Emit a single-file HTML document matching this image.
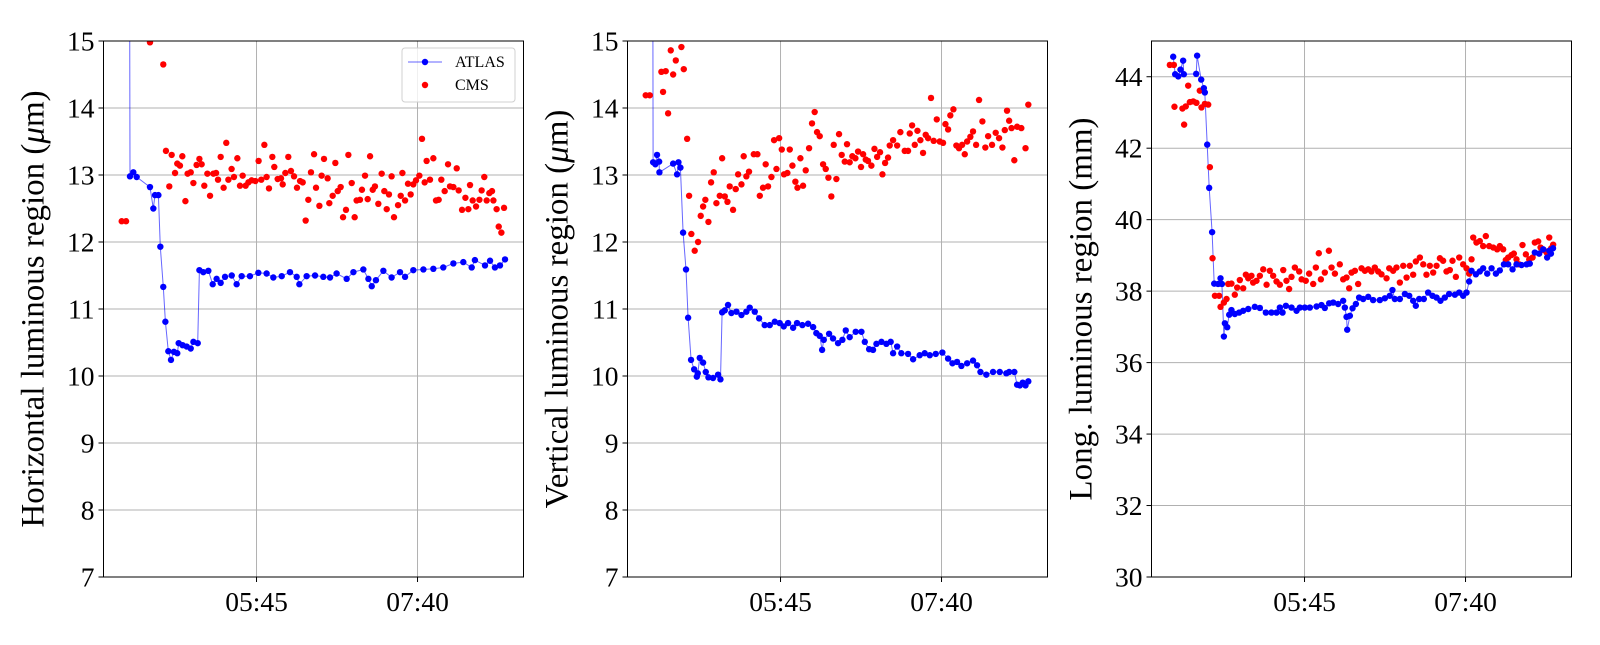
<!DOCTYPE html>
<html><head><meta charset="utf-8"><style>
body{margin:0;background:#fff;}
svg text{font-family:"Liberation Serif",serif;fill:#000;}
</style></head><body>
<svg id="fig" width="1600" height="640" xmlns="http://www.w3.org/2000/svg"></svg>
<script>
// ---- data (time in minutes since midnight) ----
const atlasH_t=[254,254.6,257,259.4,268.9,271.3,272.5,274.9,276.3,278.4,279.9,282,283.9,286,288.4,289.4,292.2,295.1,298,299.9,303,304.2,307,310.6,313.7,316.5,319.4,322.5,327.3,330.8,334.4,340.3,346.3,352.2,357,363,368.9,373.7,375.6,380.8,386.8,392.7,397.5,402.2,409.4,414.2,421.3,424.9,427.3,430.3,435.6,441.5,447.5,451.1,457,464.2,471.3,478.4,485.6,492.7,498.7,501,508.2,511.8,515.3,518.9,522.5];
const atlasH_v=[20,12.98,13.04,12.97,12.82,12.5,12.7,12.7,11.93,11.33,10.81,10.37,10.24,10.36,10.34,10.49,10.46,10.44,10.41,10.51,10.49,11.58,11.55,11.57,11.37,11.45,11.39,11.48,11.5,11.37,11.49,11.49,11.54,11.53,11.47,11.49,11.55,11.48,11.37,11.49,11.5,11.48,11.47,11.53,11.45,11.55,11.59,11.45,11.34,11.43,11.57,11.47,11.55,11.48,11.58,11.59,11.6,11.62,11.68,11.7,11.62,11.73,11.65,11.72,11.62,11.65,11.74];
const cmsH_t=[248.7,251.8,268.9,278.4,280.3,282.7,284.4,286.8,288.4,290.3,292,294.2,295.8,298,299.9,302.2,304.2,305.8,307.7,309.9,311.8,314.2,316.1,317.5,319.4,321.5,323.4,324.9,327.2,328.9,331.3,333.2,335.1,337.2,339.2,341.5,344.2,346.5,348.4,350.6,352.2,353.9,356.3,357.7,360.1,362.5,363.7,365.6,367.7,369.6,371.8,373.9,376.1,378,380.1,382,383.9,386.1,387.5,389.9,391.5,393.2,395.8,397,399.4,401.3,403,405.1,406.8,408.9,410.6,413,415.1,416.5,418.9,420.3,422.5,424.4,426.1,428,429.6,432,434.4,436.3,438,439.6,441.5,443.2,446.1,448,449.2,451.1,453.2,455.1,457,458.9,461.3,463.2,465.1,466.5,468.9,471.3,473.2,475.1,477,479.4,481.8,483.2,485.6,488,489.4,491.8,494.2,496.3,497.5,499.4,501.8,504.2,505.8,507.7,509.4,511.3,513.2,514.2,516.5,518,519.9,521.8];
const cmsH_v=[12.31,12.31,14.98,14.65,13.36,12.83,13.3,13.03,13.17,13.14,13.28,12.61,13.02,13.04,12.88,13.15,13.24,13.16,12.84,13.02,12.69,13.02,13.03,12.93,13.27,12.81,13.48,12.93,13.09,12.97,13.25,12.84,12.99,12.84,12.89,12.92,12.91,13.21,12.93,13.45,12.97,12.8,13.27,13.12,12.94,12.95,12.86,13.03,13.27,13.06,12.98,12.81,12.91,12.89,12.32,12.63,13.04,13.31,12.81,12.54,12.99,13.24,12.95,12.58,12.69,13.18,12.76,12.82,12.37,12.48,13.3,12.88,12.37,12.62,12.63,12.78,12.99,12.64,13.28,12.78,12.83,12.57,13.02,12.76,12.49,12.71,12.98,12.37,12.55,12.69,13.03,12.62,12.87,12.71,12.86,12.92,12.99,13.54,12.89,13.21,12.93,13.25,12.62,12.63,12.93,12.76,13.16,12.83,12.82,13.1,12.77,12.48,12.66,12.49,12.85,12.62,12.53,12.63,12.77,12.97,12.62,12.73,12.76,12.62,12.49,12.23,12.14,12.51];
const atlasV_t=[253.5,254,255.6,256.8,258.3,258.5,268.3,271.1,272.1,273.5,275.4,277.5,279,281.1,283.3,285.2,285.9,287.3,289.7,291.6,293.5,296.8,300.4,302.1,303.3,305.2,307.5,309.9,313.5,317.1,320.6,323,326.6,329.7,333.7,337.3,340.9,344.4,347.3,350.4,354,356.8,360.6,364.7,368.3,370.6,373,374.7,375.9,379.7,382.5,386.1,389.2,391.6,394.4,398.7,402.8,405.2,408.3,411.1,413.5,417.1,420.6,423.7,425.4,428.3,431.3,436.1,439.7,444.4,448,451.6,455.9,460.6,464.7,467.8,471.1,474.2,478.3,482.5,485.4,487.8,492,496.8,501.6,506.3,508.3,512,514,516,518,520,522];
const atlasV_v=[20,13.19,13.16,13.3,13.2,13.04,13.17,13.01,13.19,13.11,12.14,11.59,10.87,10.24,10.1,9.99,10.04,10.27,10.2,10.06,9.98,9.97,10.02,9.95,10.95,10.98,11.06,10.94,10.96,10.91,10.96,11.02,10.96,10.86,10.76,10.76,10.81,10.79,10.74,10.79,10.72,10.79,10.76,10.78,10.73,10.64,10.6,10.39,10.54,10.63,10.56,10.49,10.54,10.68,10.58,10.66,10.66,10.51,10.4,10.39,10.48,10.51,10.48,10.51,10.34,10.44,10.34,10.33,10.25,10.31,10.34,10.31,10.33,10.35,10.26,10.19,10.21,10.15,10.19,10.23,10.16,10.06,10.02,10.06,10.06,10.04,10.06,10.06,9.87,9.86,9.9,9.86,9.92];
const cmsV_t=[248.7,251.6,259.9,261.1,263,264.7,266.6,268.3,270.2,274.2,275.9,278.3,279.7,281.3,283.7,286.1,288,289.7,291.3,293.5,295.4,297.3,299.2,301.6,303.3,305.2,307.1,308.7,311.1,313,314.7,317.1,318.7,320.6,322.5,325.9,328.5,330.2,332.5,334.4,336.1,338.5,340.4,342.1,344,345.9,347.5,349.9,351.6,353.5,355.6,357.1,359.2,361.1,363,365.4,367.5,369.4,371.1,373,375.4,377.3,379.2,381.3,383,384.9,386.8,388.7,390.9,392.5,394.4,396.3,398.5,400.4,402.5,404,405.9,407.5,409.9,412.1,414,416.1,417.8,419.7,421.8,423,425.4,428.3,430.6,433.7,436.1,437.3,439,440.9,442.8,444.9,446.8,448.7,450.4,452.5,454.4,456.6,458.7,461.1,462.8,464.7,466.3,468.5,470.6,472.5,474.7,476.6,478.3,480.6,482.5,484.7,486.8,489.2,491.3,493.3,496.1,498.7,501.1,503.5,505.2,506.8,508.3,510,512,514,517,520,522];
const cmsV_v=[14.19,14.19,14.54,14.24,14.55,13.92,14.86,14.5,14.71,14.91,14.58,13.54,12.69,12.12,11.87,12,12.39,12.53,12.63,12.3,12.89,13.04,12.58,12.69,13.25,12.68,12.6,12.83,12.48,12.79,13.01,12.86,13.28,12.98,13.05,13.31,13.31,12.69,12.81,13.16,12.83,12.97,13.52,13.09,13.55,13.38,13.01,13.03,13.38,13.14,12.9,12.81,13.25,12.84,13.07,13.4,13.77,13.94,13.64,13.58,13.16,13.09,12.96,12.68,13.45,12.94,13.61,13.3,13.2,13.46,13.19,13.28,13.25,13.35,13.12,13.31,13.23,13.21,13.14,13.39,13.27,13.34,13.01,13.18,13.26,13.44,13.52,13.44,13.64,13.36,13.36,13.62,13.74,13.45,13.66,13.52,13.33,13.6,13.55,14.15,13.51,13.83,13.5,13.48,13.76,13.68,13.89,13.98,13.44,13.4,13.45,13.31,13.5,13.57,13.65,13.45,14.12,13.8,13.41,13.58,13.45,13.63,13.55,13.41,13.67,13.96,13.81,13.7,13.22,13.72,13.7,13.4,14.05];
const atlasL_t=[251.2,252.6,254.8,256.4,258.3,258.8,267.6,268.3,271.2,273.1,273.8,275.5,276.9,279,280.5,283.3,285,286,287.4,288.1,289.8,291.2,292.8,295.2,298.3,301.2,304.8,309.5,313.1,317.4,321.4,325,327.4,329.3,331.7,335.7,339.3,341.7,345.2,348.8,353.6,357.1,359.5,362.6,365.5,369,372.6,373.8,375,375.5,377.4,379.3,381.7,384,386.9,390.5,394,398.8,402.4,405.9,407.8,409.5,413.1,416.7,419.8,422.6,424.5,426.9,430.2,433.3,436.4,439.3,442.1,445.2,448.3,452.4,455.5,458.3,460.7,462.6,464.3,467.4,470.2,472.6,475.5,478.6,481.7,484.5,487.4,490.5,493.6,496.4,500,503.6,505.9,509.5,512.6,515.5,518.3,519.8,521,522.5];
const atlasL_v=[44.56,44.07,44.01,44.2,44.45,44.07,44.08,44.59,43.92,43.68,43.56,42.1,40.89,39.65,38.21,38.2,38.36,38.2,36.73,37.1,36.99,37.34,37.47,37.36,37.4,37.45,37.5,37.56,37.53,37.4,37.4,37.4,37.54,37.4,37.59,37.54,37.45,37.54,37.54,37.54,37.57,37.61,37.53,37.66,37.68,37.64,37.73,37.54,37.28,36.92,37.31,37.52,37.64,37.82,37.78,37.84,37.75,37.75,37.8,37.87,38.03,37.78,37.78,37.92,37.87,37.73,37.59,37.78,37.78,37.96,37.87,37.82,37.73,37.82,37.92,37.9,37.96,37.87,37.96,38.27,38.57,38.47,38.55,38.64,38.49,38.64,38.49,38.58,38.75,38.75,38.61,38.75,38.73,38.75,38.77,39.08,39.05,39.17,38.94,39.13,39.05,39.2];
const cmsL_t=[248.8,251.7,252.1,257.8,259,260.2,261.9,263.1,265.5,267.8,270.2,271.4,273.8,276.2,277.4,279.3,281,284,285,287.4,289.3,290.5,292.8,295.2,296.9,298.8,301.2,303.1,304.8,307.1,308.3,310.7,313.1,315.5,317.9,320.2,322.6,325,327.4,329.8,332.1,334,335.7,338.1,341.2,342.9,345.9,348.3,351.2,353.1,355.2,356.7,359.5,362.4,364.3,366.7,370.2,372.6,375,376.9,378.6,381,383.3,385.7,388.1,390.5,392.8,395.2,397.6,400,403.6,405.5,408.3,410.7,413.1,415.5,417.9,420.2,422.6,424.5,427.4,429.8,432.1,434.5,436.9,439.3,441.7,444,446.4,448.8,450.7,453.1,455.5,458.3,460.7,462.6,464.3,465.5,467.8,470.2,472.6,474.5,476.9,479.8,482.6,484.5,486.9,488.8,490.5,492.9,494.5,496.4,498.3,500.7,503.1,505.5,507.9,509.5,511.9,513.6,515.9,517.9,519.8,521.2,522.6];
const cmsL_v=[44.33,44.33,43.16,43.11,42.66,43.17,43.75,43.29,43.31,43.27,43.61,43.14,43.24,43.22,41.47,38.92,37.87,37.87,37.56,37.68,37.78,38.2,38.21,37.9,38.1,38.31,38.08,38.46,38.36,38.43,38.24,38.29,38.43,38.61,38.18,38.57,38.43,38.27,38.18,38.59,38.29,38.06,38.4,38.66,38.55,38.33,38.29,38.49,38.2,38.66,39.06,38.33,38.52,39.13,38.66,38.49,38.75,38.33,38.38,38.08,38.52,38.57,38.2,38.64,38.57,38.61,38.55,38.66,38.55,38.47,38.36,38.64,38.57,38.66,38.24,38.71,38.38,38.71,38.46,38.83,38.94,38.75,38.46,38.71,38.52,38.71,38.92,38.85,38.55,38.59,38.85,38.4,38.94,38.75,38.64,38.49,38.89,39.5,39.36,39.4,39.26,39.54,39.26,39.22,39.17,39.26,39.17,38.87,38.94,39.01,39.05,38.89,38.75,39.29,39.03,38.89,38.94,39.36,39.39,39.22,39.15,39.08,39.5,39.2,39.3];
const xTickVals=[345,460];
const xTickLabels=["05:45","07:40"];
const yTicks12=[7,8,9,10,11,12,13,14,15];
const yTicks3=[30,32,34,36,38,40,42,44];

// ---- drawing ----
const NS="http://www.w3.org/2000/svg";
const svg=document.getElementById('fig');
function mk(tag,attrs,parent){const e=document.createElementNS(NS,tag);for(const k in attrs)e.setAttribute(k,attrs[k]);(parent||svg).appendChild(e);return e;}
const T0=235.7,T1=535.7,TOP=41,BOT=577,W=420;
const panels=[
 {left:103.5,ymin:7,ymax:15,ticks:yTicks12,label:'Horizontal luminous region (',unit:true,a:[atlasH_t,atlasH_v],c:[cmsH_t,cmsH_v],name:'horizontal',legend:true},
 {left:627.5,ymin:7,ymax:15,ticks:yTicks12,label:'Vertical luminous region (',unit:true,a:[atlasV_t,atlasV_v],c:[cmsV_t,cmsV_v],name:'vertical'},
 {left:1151.5,ymin:30,ymax:45,ticks:yTicks3,label:'Long. luminous region (mm)',unit:false,a:[atlasL_t,atlasL_v],c:[cmsL_t,cmsL_v],name:'longitudinal'}
];
panels.forEach((p,i)=>{
  const g=mk('g',{});
  
  
  const xs=t=>p.left+(t-T0)/(T1-T0)*W;
  const ys=v=>BOT-(v-p.ymin)/(p.ymax-p.ymin)*(BOT-TOP);
  const cid='clip'+i;
  const cp=mk('clipPath',{id:cid},g);mk('rect',{x:p.left,y:TOP,width:W,height:BOT-TOP},cp);
  const grid=mk('g',{},g);
  
  
  xTickVals.forEach((t,k)=>{
    mk('line',{x1:xs(t),x2:xs(t),y1:TOP,y2:BOT,stroke:'#b0b0b0','stroke-width':1},grid);
    mk('line',{x1:xs(t),x2:xs(t),y1:BOT,y2:BOT+5,stroke:'#000','stroke-width':1},g);
    const tx=mk('text',{x:xs(t),y:BOT+34,'text-anchor':'middle','font-size':27.5},g);
    tx.textContent=xTickLabels[k];
    
    
  });
  p.ticks.forEach(v=>{
    if(v>p.ymin&&v<p.ymax) mk('line',{x1:p.left,x2:p.left+W,y1:ys(v),y2:ys(v),stroke:'#b0b0b0','stroke-width':1},grid);
    mk('line',{x1:p.left-5,x2:p.left,y1:ys(v),y2:ys(v),stroke:'#000','stroke-width':1},g);
    const tx=mk('text',{x:p.left-9,y:ys(v)+9.5,'text-anchor':'end','font-size':27.5},g);
    tx.textContent=String(v);
    
    
  });
  const data=mk('g',{'clip-path':'url(#'+cid+')'},g);
  let d='';p.a[0].forEach((t,k)=>{d+=(k?'L':'M')+xs(t).toFixed(1)+','+ys(p.a[1][k]).toFixed(1);});
  const ln=mk('path',{d:d,fill:'none',stroke:'#0000ff','stroke-opacity':0.6,'stroke-width':1},data);
  
  
  p.c[0].forEach((t,k)=>{
    const c=mk('circle',{cx:xs(t),cy:ys(p.c[1][k]),r:3.2,fill:'#ff0000'},data);
    
    
  });
  p.a[0].forEach((t,k)=>{
    const c=mk('circle',{cx:xs(t),cy:ys(p.a[1][k]),r:3.2,fill:'#0000ff'},data);
    
    
  });
  const fr=mk('rect',{x:p.left,y:TOP,width:W,height:BOT-TOP,fill:'none',stroke:'#000','stroke-width':1},g);
  
  
  const cy=(TOP+BOT)/2, lx=p.left-60;
  const yl=mk('text',{x:lx,y:cy,'text-anchor':'middle','font-size':33,transform:'rotate(-90 '+lx+' '+cy+')'},g);
  
  
  if(p.unit){
    yl.appendChild(document.createTextNode(p.label));
    const mu=mk('tspan',{'font-style':'italic'},yl);mu.textContent='μ';
    yl.appendChild(document.createTextNode('m)'));
  } else yl.textContent=p.label;
  if(p.legend){
    const lg=mk('g',{},g);
    
    
    mk('rect',{x:402,y:48,width:113,height:54,rx:3,fill:'#fff','fill-opacity':0.8,stroke:'#d0d0d0'},lg);
    mk('line',{x1:408,x2:442,y1:62,y2:62,stroke:'#0000ff','stroke-opacity':0.6},lg);
    mk('circle',{cx:425,cy:62,r:3.2,fill:'#0000ff'},lg);
    mk('circle',{cx:425,cy:85,r:3.2,fill:'#ff0000'},lg);
    const t1=mk('text',{x:455,y:67,'font-size':16},lg);t1.textContent='ATLAS';
    
    
    const t2=mk('text',{x:455,y:90,'font-size':16},lg);t2.textContent='CMS';
    
    
  }
});
</script>
</body></html>
